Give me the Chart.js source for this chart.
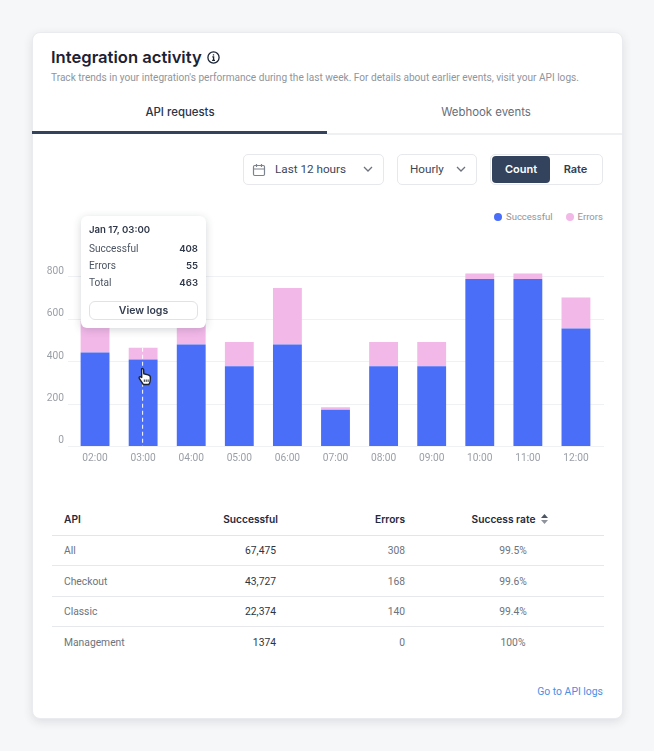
<!DOCTYPE html>
<html>
<head>
<meta charset="utf-8">
<title>Integration activity</title>
<script src="https://cdn.jsdelivr.net/npm/chart.js@4"></script>
<style>
    * { box-sizing: border-box; }
    html, body { margin: 0; height: 100%; overflow: hidden; }
    body { background: #f6f7f8; font-family: Roboto, "Open Sans", sans-serif; color: #1f2a3c; position: relative; width: 654px; height: 751px; }
    .card { position: absolute; left: 32px; top: 32px; width: 591px; height: 687px; background: #fff; border-radius: 8px; border: 1px solid #e9ebee; box-shadow: 0 3px 10px rgba(40, 50, 70, .12); }
    .abs { position: absolute; white-space: nowrap; }
    .title { left: 51px; top: 46px; font-family: Inter; font-size: 16.6px; line-height: 22px; font-weight: 600; color: #1a2233; }
    .subtitle { left: 51px; top: 70.5px; font-size: 10.1px; line-height: 14px; color: #90959d; }
    .tab { top: 102.5px; font-family: Inter; font-size: 11.4px; line-height: 18px; transform: translateX(-50%); }
    .tab-line { height: 1.5px; left: 327px; top: 133px; width: 295px; background: #eef0f2; }
    .tab-active { height: 3px; left: 32px; top: 131px; width: 295px; background: #33435e; }
    .box { top: 154px; height: 31px; border: 1px solid #e6e8eb; border-radius: 5px; background: #fff; }
    .ctl { top: 161px; font-size: 11.7px; line-height: 17px; color: #3c4656; }
    .count { left: 492px; top: 156px; width: 58px; height: 27px; background: #33435e; border-radius: 4px; color: #fff; font-family: Inter; font-size: 11px; font-weight: 600; line-height: 27px; text-align: center; }
    .rate { left: 550px; top: 156px; width: 51px; font-family: Inter; font-size: 11px; font-weight: 600; line-height: 27px; text-align: center; color: #333d4f; }
    #chartBox { position: absolute; left: 32px; top: 240px; width: 590px; height: 230px; }
    #chartBox canvas { display: block; }
    #legend { position: absolute; left: 494px; top: 211px; display: flex; font-size: 9.5px; line-height: 12px; color: #8f949c; }
    #legend span.item { display: flex; align-items: center; margin-right: 13px; }
    #legend i { width: 8px; height: 8px; border-radius: 50%; margin-right: 4px; display: block; }
    #tip { position: absolute; left: 81px; top: 216px; width: 125px; height: 112px; background: #fff; border-radius: 6px; box-shadow: 0 2px 8px rgba(40, 50, 70, .2); font-size: 10.1px; }
    #tip .head { position: absolute; left: 8px; top: 7px; font-family: Inter; font-size: 9.6px; font-weight: 600; color: #30394a; line-height: 14px; }
    #tip .row { position: absolute; left: 8px; width: 109px; display: flex; justify-content: space-between; line-height: 14px; color: #4b5563; }
    #tip .row b { font-family: Inter; font-size: 9.6px; font-weight: 600; color: #30394a; }
    #tip .btn { position: absolute; left: 8px; top: 85px; width: 109px; height: 19px; border: 1px solid #dfe2e6; border-radius: 6px; text-align: center; line-height: 17px; font-family: Inter; font-size: 10.5px; font-weight: 600; color: #333d4f; }
    #hand { position: absolute; left: 138px; top: 367px; }
    table { position: absolute; left: 52px; top: 503px; width: 552px; border-collapse: collapse; table-layout: fixed; font-size: 10.3px; }
    th { height: 32px; font-family: Inter; font-size: 10.2px; font-weight: 600; color: #1f2a3c; padding: 0; border-bottom: 1px solid #e3e6e9; }
    td { height: 30.5px; padding: 1px 0 0; border-bottom: 1px solid #e6e8eb; color: #6d737d; }
    tr:last-child td { border-bottom: 0; }
    .left { text-align: left; padding-left: 12px; }
    .num { text-align: right; }
    td.ok { padding-right: 2px; color: #2c3442; }
    td.mid { text-align: center; padding-left: 17px; }
    th.mid { text-align: center; padding-left: 11px; }
    .link { right: 51px; top: 684.5px; font-size: 10.4px; line-height: 14px; color: #4a90e2; }
</style>
</head>
<body>
<div class="card"></div>

<div class="abs title">Integration activity</div>
<svg class="abs" style="left:207px;top:51px" width="13" height="13" viewBox="0 0 13 13" fill="none" stroke="#1a2233" stroke-width="1.3">
    <circle cx="6.5" cy="6.5" r="5.6"/><path d="M5.3 5.8h1.3v3.4M5.1 9.3h2.9"/><path d="M6.5 3.3v1.2"/>
</svg>
<div class="abs subtitle">Track trends in your integration's performance during the last week. For details about earlier events, visit your API logs.</div>

<div class="abs tab" style="left:180px;font-weight:500;color:#2a3447">API requests</div>
<div class="abs tab" style="left:486px;color:#666d78">Webhook events</div>
<div class="abs tab-line"></div>
<div class="abs tab-active"></div>

<!-- filtres -->
<div class="abs box" style="left:243px;width:141px"></div>
<svg class="abs" style="left:252px;top:163px" width="14" height="14" viewBox="0 0 14 14" fill="none" stroke="#7c838d" stroke-width="1.2">
    <rect x="1.5" y="2.5" width="11" height="10" rx="1.2"/><path d="M1.5 6h11M4.5 1v3M9.5 1v3"/>
</svg>
<div class="abs ctl" style="left:275px">Last 12 hours</div>
<svg class="abs" style="left:363px;top:166px" width="10" height="7" viewBox="0 0 10 7" fill="none" stroke="#6d737d" stroke-width="1.3"><path d="M1 1l4 4 4-4"/></svg>
<div class="abs box" style="left:397px;width:80px"></div>
<div class="abs ctl" style="left:410px">Hourly</div>
<svg class="abs" style="left:456px;top:166px" width="10" height="7" viewBox="0 0 10 7" fill="none" stroke="#6d737d" stroke-width="1.3"><path d="M1 1l4 4 4-4"/></svg>
<div class="abs box" style="left:490px;width:113px"></div>
<div class="abs count">Count</div>
<div class="abs rate">Rate</div>

<div id="legend"></div>
<div id="chartBox"><canvas id="activityChart" width="590" height="230"></canvas></div>

<div id="tip"></div>
<svg id="hand" width="14" height="19" viewBox="0 0 14 19">
    <path d="M3.6 1.8c.9-.8 1.9-.2 2 .8l.2 4.2 4.3 1.1c1.6.4 2.4 1.3 2.3 2.9l-.3 3.4c-.1 1.5-.7 2.4-1.4 3.3H5.3L1.4 11.6c-.7-1-.2-2 .9-1.9l1.4.8z" fill="#fff" stroke="#1c2433" stroke-width="1.4" stroke-linejoin="round"/>
    <path d="M6.3 12.5v2.4M8.2 12.5v2.4M10.1 12.5v2.4" stroke="#1c2433" stroke-width="1"/>
</svg>

<table id="apiTable"></table>
<div class="abs link">Go to API logs</div>

<script>
// Grafik verileri
const hours = ['02:00', '03:00', '04:00', '05:00', '06:00', '07:00', '08:00', '09:00', '10:00', '11:00', '12:00'];
const successful = [440, 408, 478, 376, 478, 171, 376, 376, 787, 787, 554];
const errors = [150, 55, 110, 114, 267, 11, 114, 114, 26, 26, 146];
const yTicks = [0, 200, 400, 600, 800];

// Tablo verileri
const tableHeads = ['API', 'Successful', 'Errors', 'Success rate'];
const apiNames = ['All', 'Checkout', 'Classic', 'Management'];
const apiSuccessful = ['67,475', '43,727', '22,374', '1374'];
const apiErrors = ['308', '168', '140', '0'];
const apiRates = ['99.5%', '99.6%', '99.4%', '100%'];

const activeHour = 1; // imlecin üzerinde durduğu saat
const activeDate = 'Jan 17';

const blue = '#4a6ef8';
const pink = '#f2b8e8';

// Yatay kılavuz çizgileri, çizim alanından biraz taşıyor
const gridLines = {
    id: 'gridLines',
    beforeDatasetsDraw(chart) {
        const { ctx, chartArea, scales } = chart;
        ctx.save();
        ctx.strokeStyle = '#f0f1f3';
        ctx.lineWidth = 1;
        yTicks.forEach(v => {
            const y = Math.round(scales.y.getPixelForValue(v)) + 0.5;
            ctx.beginPath();
            ctx.moveTo(chartArea.left - 3, y);
            ctx.lineTo(chartArea.right + 4, y);
            ctx.stroke();
        });
        ctx.restore();
    }
};

// Aktif çubuğun üstündeki kesikli çizgi
const hoverLine = {
    id: 'hoverLine',
    afterDatasetsDraw(chart) {
        const { ctx, scales } = chart;
        const x = scales.x.getPixelForValue(activeHour) - 0.5;
        ctx.save();
        ctx.strokeStyle = '#fff';
        ctx.lineWidth = 1;
        ctx.setLineDash([4, 3]);
        ctx.beginPath();
        ctx.moveTo(x, scales.y.getPixelForValue(successful[activeHour] + errors[activeHour]));
        ctx.lineTo(x, scales.y.getPixelForValue(0));
        ctx.stroke();
        ctx.restore();
    }
};

const tickFont = { family: 'Roboto', size: 10.2 };

const chart = new Chart(document.getElementById('activityChart'), {
    type: 'bar',
    data: {
        labels: hours,
        datasets: [
            { label: 'Successful', data: successful, backgroundColor: blue },
            { label: 'Errors', data: errors, backgroundColor: pink }
        ]
    },
    options: {
        responsive: false,
        animation: false,
        layout: { padding: { top: 19, right: 22 } },
        datasets: { bar: { barPercentage: 0.6, categoryPercentage: 1 } },
        scales: {
            x: {
                stacked: true,
                grid: { display: false, drawTicks: false },
                border: { display: false },
                ticks: { color: '#9a9fa7', font: tickFont, padding: 6, maxRotation: 0 },
                afterFit: scale => { scale.height = 24; }
            },
            y: {
                stacked: true,
                min: 0,
                max: 880,
                grid: { display: false, drawTicks: false },
                border: { display: false },
                ticks: {
                    stepSize: 200,
                    includeBounds: false,
                    align: 'end',
                    color: '#9a9fa7',
                    font: tickFont,
                    padding: 7
                },
                afterFit: scale => { scale.width = 39; }
            }
        },
        plugins: {
            legend: { display: false },
            tooltip: { enabled: false }
        }
    },
    plugins: [gridLines, hoverLine]
});

// Açıklama kutusu veri setlerinden oluşturuluyor
document.getElementById('legend').innerHTML = chart.data.datasets.map(ds =>
    `<span class="item"><i style="background:${ds.backgroundColor}"></i>${ds.label}</span>`
).join('');

// Bilgi kutusu
const tipRows = [
    ['Successful', successful[activeHour]],
    ['Errors', errors[activeHour]],
    ['Total', successful[activeHour] + errors[activeHour]]
];
document.getElementById('tip').innerHTML =
    `<div class="head">${activeDate}, ${hours[activeHour]}</div>` +
    tipRows.map((r, i) => `<div class="row" style="top:${26 + i * 17}px"><span>${r[0]}</span><b>${r[1]}</b></div>`).join('') +
    '<div class="btn">View logs</div>';

// Tablo
const sortIcon = '<svg width="7" height="10" viewBox="0 0 7 10" style="margin-left:6px;vertical-align:-1px"><path d="M3.5 0L7 4H0z" fill="#4b5563"/><path d="M3.5 10L0 6h7z" fill="#8f949c"/></svg>';
document.getElementById('apiTable').innerHTML =
    '<colgroup><col style="width:128px"><col style="width:98px"><col style="width:127px"><col style="width:199px"></colgroup>' +
    `<tr><th class="left">${tableHeads[0]}</th><th class="num">${tableHeads[1]}</th><th class="num">${tableHeads[2]}</th><th class="mid">${tableHeads[3]}${sortIcon}</th></tr>` +
    apiNames.map((name, i) =>
        `<tr><td class="left">${name}</td><td class="num ok">${apiSuccessful[i]}</td><td class="num">${apiErrors[i]}</td><td class="mid">${apiRates[i]}</td></tr>`
    ).join('');
</script>
</body>
</html>
